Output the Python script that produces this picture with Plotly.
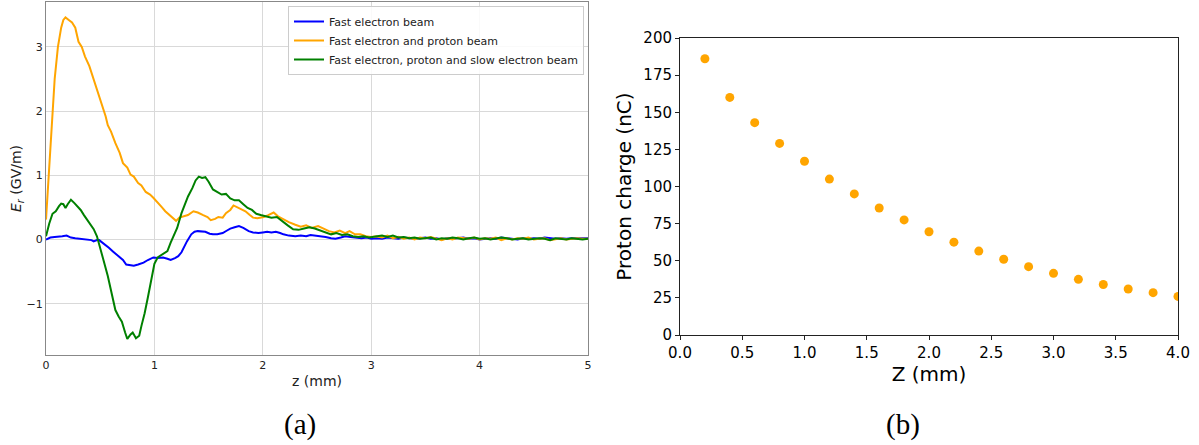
import plotly.graph_objects as go

# ---------------- data: panel (a) ----------------
TAIL_Z = [3.05, 3.1, 3.15, 3.2, 3.25, 3.3, 3.35, 3.4, 3.45, 3.5,
          3.55, 3.6, 3.65, 3.7, 3.75, 3.8, 3.85, 3.9, 3.95, 4.0,
          4.05, 4.1, 4.15, 4.2, 4.25, 4.3, 4.35, 4.4, 4.45, 4.5,
          4.55, 4.6, 4.65, 4.7, 4.75, 4.8, 4.85, 4.9, 4.95, 5.0]

blue_z = [0, 0.04, 0.08, 0.11, 0.15, 0.19, 0.23, 0.27, 0.31, 0.35,
          0.39, 0.42, 0.44, 0.47, 0.49, 0.53, 0.58, 0.62, 0.67, 0.71,
          0.74, 0.77, 0.81, 0.85, 0.9, 0.94, 0.99, 1.03, 1.08, 1.12,
          1.15, 1.19, 1.22, 1.25, 1.27, 1.3, 1.34, 1.37, 1.4, 1.44,
          1.47, 1.51, 1.54, 1.58, 1.63, 1.67, 1.7, 1.74, 1.78, 1.82,
          1.87, 1.91, 1.96, 2.0, 2.04, 2.08, 2.12, 2.16, 2.19, 2.24,
          2.3, 2.35, 2.4, 2.44, 2.49, 2.54, 2.58, 2.63, 2.67, 2.72,
          2.76, 2.81, 2.86, 2.91, 2.96, 3.0] + TAIL_Z
blue_E = [0.0, 0.03, 0.04, 0.04, 0.05, 0.06, 0.03, 0.02, 0.01, 0.01,
          0.0, -0.01, -0.03, -0.01, -0.01, -0.06, -0.13, -0.19, -0.26, -0.32,
          -0.39, -0.40, -0.41, -0.39, -0.36, -0.32, -0.28, -0.29, -0.28, -0.30,
          -0.32, -0.29, -0.26, -0.20, -0.13, -0.03, 0.08, 0.12, 0.13, 0.13,
          0.12, 0.09, 0.08, 0.08, 0.10, 0.14, 0.17, 0.19, 0.21, 0.18,
          0.13, 0.11, 0.10, 0.11, 0.12, 0.11, 0.12, 0.10, 0.08, 0.06,
          0.05, 0.06, 0.05, 0.07, 0.06, 0.05, 0.04, 0.02, 0.01, 0.03,
          0.05, 0.04, 0.03, 0.02, 0.03, 0.01,
          0.02, 0.01, 0.03, 0.02, 0.01, 0.03, 0.02, 0.01, 0.02, 0.03,
          0.01, 0.02, 0.0, 0.02, 0.01, 0.02, 0.03, 0.01, 0.02, 0.0,
          0.01, 0.02, 0.01, 0.03, 0.02, 0.01, 0.0, 0.02, 0.01, 0.02,
          0.01, 0.03, 0.02, 0.01, 0.02, 0.01, 0.02, 0.02, 0.01, 0.02]

orange_z = [0, 0.02, 0.05, 0.08, 0.11, 0.14, 0.16, 0.18, 0.21, 0.24,
            0.27, 0.3, 0.33, 0.36, 0.4, 0.44, 0.48, 0.51, 0.55, 0.57,
            0.6, 0.64, 0.68, 0.71, 0.75, 0.78, 0.81, 0.85, 0.88, 0.92,
            0.96, 0.99, 1.03, 1.07, 1.1, 1.14, 1.18, 1.2, 1.23, 1.27,
            1.31, 1.36, 1.4, 1.45, 1.49, 1.52, 1.56, 1.59, 1.63, 1.66,
            1.7, 1.73, 1.77, 1.81, 1.84, 1.88, 1.91, 1.95, 2.01, 2.05,
            2.1, 2.14, 2.19, 2.24, 2.3, 2.35, 2.4, 2.45, 2.51, 2.56,
            2.61, 2.66, 2.71, 2.76, 2.8, 2.85, 2.9, 2.95, 3.0] + TAIL_Z
orange_E = [0.31, 0.9, 1.8, 2.5, 3.0, 3.3, 3.42, 3.46, 3.42, 3.38,
            3.3, 3.08, 3.0, 2.85, 2.7, 2.49, 2.3, 2.12, 1.92, 1.78,
            1.68, 1.5, 1.35, 1.19, 1.12, 1.01, 0.98, 0.88, 0.84, 0.74,
            0.7, 0.65, 0.58, 0.5, 0.44, 0.38, 0.33, 0.29, 0.34, 0.36,
            0.38, 0.44, 0.42, 0.38, 0.35, 0.30, 0.32, 0.35, 0.34, 0.41,
            0.46, 0.53, 0.5, 0.46, 0.44, 0.38, 0.34, 0.33, 0.35, 0.38,
            0.42, 0.36, 0.31, 0.27, 0.23, 0.2, 0.22, 0.18, 0.21, 0.17,
            0.13, 0.11, 0.14, 0.1, 0.13, 0.08, 0.08, 0.05, 0.04,
            0.05, 0.03, 0.06, 0.02, 0.04, 0.01, 0.03, 0.0, 0.03, 0.02,
            0.04, 0.01, -0.01, 0.02, 0.0, 0.03, 0.02, 0.01, 0.03, 0.0,
            0.02, 0.01, 0.03, -0.01, 0.02, 0.0, 0.02, 0.01, 0.03, 0.0,
            0.01, 0.02, -0.01, 0.01, 0.02, 0.0, 0.01, 0.02, 0.01, 0.01]

green_z = [0, 0.03, 0.06, 0.09, 0.12, 0.14, 0.16, 0.18, 0.2, 0.23,
           0.26, 0.29, 0.32, 0.35, 0.38, 0.41, 0.44, 0.47, 0.5, 0.53,
           0.57, 0.6, 0.64, 0.67, 0.7, 0.73, 0.75, 0.78, 0.8, 0.83,
           0.86, 0.88, 0.91, 0.94, 0.97, 1.0, 1.03, 1.06, 1.09, 1.12,
           1.15, 1.18, 1.21, 1.25, 1.28, 1.31, 1.35, 1.38, 1.41, 1.44,
           1.47, 1.5, 1.54, 1.58, 1.62, 1.66, 1.7, 1.74, 1.78, 1.82,
           1.86, 1.9, 1.94, 1.98, 2.03, 2.08, 2.13, 2.18, 2.23, 2.28,
           2.33, 2.38, 2.43, 2.48, 2.53, 2.58, 2.63, 2.68, 2.73, 2.78,
           2.83, 2.88, 2.93, 2.98] + TAIL_Z
green_E = [0.05, 0.25, 0.40, 0.44, 0.52, 0.56, 0.55, 0.49, 0.55, 0.62,
           0.57, 0.52, 0.46, 0.38, 0.31, 0.24, 0.16, 0.05, -0.12, -0.32,
           -0.57, -0.8, -1.1, -1.2, -1.28, -1.45, -1.55, -1.48, -1.45, -1.54,
           -1.5, -1.35, -1.15, -0.9, -0.62, -0.38, -0.28, -0.25, -0.22, -0.18,
           -0.05, 0.08, 0.18, 0.41, 0.55, 0.67, 0.8, 0.92, 0.98, 0.96,
           0.97, 0.9, 0.78, 0.74, 0.70, 0.71, 0.64, 0.61, 0.61, 0.55,
           0.49, 0.46, 0.40, 0.38, 0.36, 0.34, 0.35, 0.28, 0.22, 0.16,
           0.15, 0.17, 0.19, 0.17, 0.14, 0.10, 0.08, 0.10, 0.07, 0.08,
           0.05, 0.04, 0.05, 0.03,
           0.05, 0.06, 0.04, 0.06, 0.03, 0.04, 0.02, 0.03, 0.01, 0.02,
           0.03, 0.0, 0.02, 0.01, 0.03, 0.02, 0.0, 0.02, 0.03, 0.01,
           0.02, 0.0, 0.01, 0.03, 0.02, 0.0, 0.01, 0.02, 0.0, 0.01,
           0.02, 0.01, -0.01, 0.02, 0.01, 0.0, 0.02, 0.01, 0.0, 0.01]

series_names = ["Fast electron beam",
                "Fast electron and proton beam",
                "Fast electron, proton and slow electron beam"]

# ---------------- data: panel (b) ----------------
proton_z = [0.2, 0.4, 0.6, 0.8, 1.0, 1.2, 1.4, 1.6, 1.8, 2.0,
            2.2, 2.4, 2.6, 2.8, 3.0, 3.2, 3.4, 3.6, 3.8, 4.0]
proton_q = [186, 160, 143, 129, 117, 105, 95, 85.5, 77.5, 69.5,
            62.5, 56.5, 51, 46, 41.5, 37.5, 34, 31, 28.5, 26]

W, H = 1199, 445


def px(x):
    return x / W


def py(y):
    return 1 - y / H


fig = go.Figure()

for z, E, name, col in [(blue_z, blue_E, series_names[0], "#0000FF"),
                        (orange_z, orange_E, series_names[1], "#FFA500"),
                        (green_z, green_E, series_names[2], "#008000")]:
    fig.add_trace(go.Scatter(x=z, y=E, mode="lines", name=name,
                             line=dict(color=col, width=2),
                             xaxis="x", yaxis="y"))

fig.add_trace(go.Scatter(x=proton_z, y=proton_q, mode="markers",
                         marker=dict(color="#FFA500", size=9),
                         showlegend=False, xaxis="x2", yaxis="y2"))

fig.update_layout(
    width=W, height=H,
    margin=dict(l=0, r=0, t=0, b=0, autoexpand=False),
    paper_bgcolor="white", plot_bgcolor="white",
    font=dict(family="DejaVu Sans", color="#222"),
    xaxis=dict(domain=[px(46), px(588)], range=[0, 5], dtick=1,
               automargin=False,
               showgrid=True, gridcolor="#d9d9d9", gridwidth=1,
               zeroline=False, showline=True, linecolor="#888",
               linewidth=1, mirror=True, ticks="", tickfont=dict(size=11),
               title=dict(text="z (mm)", font=dict(size=14), standoff=4)),
    yaxis=dict(domain=[py(355), py(2)], range=[-1.80, 3.70],
               automargin=False,
               tickvals=[-1, 0, 1, 2, 3], ticktext=["\u22121", "0", "1", "2", "3"],
               showgrid=True, gridcolor="#d9d9d9", gridwidth=1,
               zeroline=False, showline=True, linecolor="#888",
               linewidth=1, mirror=True, ticks="", tickfont=dict(size=11),
               title=dict(text="<i>E</i><sub><i>r</i></sub> (GV/m)",
                          font=dict(size=14), standoff=1)),
    xaxis2=dict(domain=[px(680), px(1178)], range=[0, 4], dtick=0.5,
                tickformat=".1f", anchor="y2", automargin=False,
                showgrid=False, zeroline=False, showline=True,
                linecolor="#222", linewidth=1, mirror=True,
                ticks="outside", ticklen=4, tickcolor="#222",
                tickfont=dict(size=15, color="black"),
                title=dict(text="Z (mm)", font=dict(size=20, color="black"),
                           standoff=4)),
    yaxis2=dict(domain=[py(335), py(38)], range=[0, 200], dtick=25,
                anchor="x2", automargin=False,
                showgrid=False, zeroline=False, showline=True,
                linecolor="#222", linewidth=1, mirror=True,
                ticks="outside", ticklen=4, tickcolor="#222",
                tickfont=dict(size=15, color="black"),
                title=dict(text="Proton charge (nC)",
                           font=dict(size=20, color="black"), standoff=6)),
    legend=dict(x=px(584), y=py(6), xanchor="right", yanchor="top",
                bgcolor="rgba(255,255,255,0.85)", bordercolor="#cccccc",
                borderwidth=1, font=dict(size=11, color="#222"),
                tracegroupgap=0),
    annotations=[
        dict(text="(a)", x=px(300), y=py(424), xref="paper", yref="paper",
             xanchor="center", yanchor="middle",
             showarrow=False, font=dict(family="Liberation Serif", size=29,
                                        color="black")),
        dict(text="(b)", x=px(903), y=py(424), xref="paper", yref="paper",
             xanchor="center", yanchor="middle",
             showarrow=False, font=dict(family="Liberation Serif", size=29,
                                        color="black")),
    ],
)

fig.write_html("out.html",
               config={"displayModeBar": False},
               post_script="document.body.style.margin='0px';"
                           "document.body.style.padding='0px';")
